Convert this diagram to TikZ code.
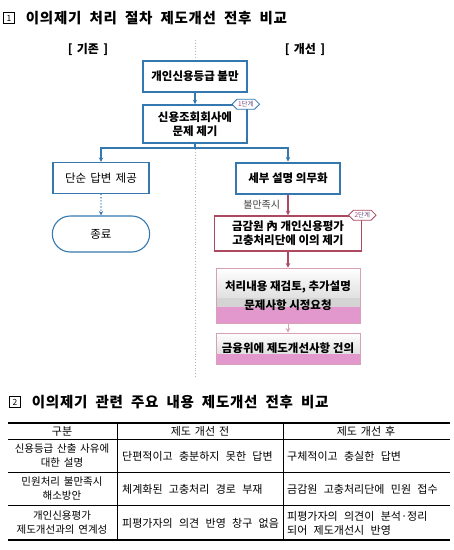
\documentclass[tikz,border=0pt]{standalone}
\usepackage{fontspec}
\setmainfont{Noto Sans CJK KR}
\newfontfamily\titlefont[LetterSpace=5, WordSpace=2]{Noto Sans CJK KR}
\newfontfamily\headfont[WordSpace=2.5]{Noto Sans CJK KR}
\newfontfamily\cellfont[WordSpace=1.6]{Noto Sans CJK KR}
\usetikzlibrary{
    arrows.meta,
    positioning,
    calc,
    shapes.misc,
    shapes.symbols
}
\definecolor{boxblue}{RGB}{52,120,175}
\definecolor{boxred}{RGB}{172,72,96}
\definecolor{pinkfill}{RGB}{226,152,204}
\definecolor{pinkline}{RGB}{214,160,182}
\definecolor{bandgray}{RGB}{212,212,212}
\definecolor{tagtext}{RGB}{110,80,125}
\tikzset{
    % --- Section title with numbered square ---
    num box/.style = {
        rectangle, draw, thin,
        minimum size=11pt, inner sep=0pt,
        font=\fontsize{8.5}{8.5}\selectfont
    },
    section title/.style = {
        font=\titlefont\bfseries\fontsize{14.5}{16}\selectfont,
        inner sep=2pt
    },
    % --- Column heading ([ old ] / [ new ]) ---
    col head/.style = {
        font=\headfont\bfseries\fontsize{12}{14}\selectfont
    },
    % --- Flow step (blue outline) ---
    flow box/.style = {
        rectangle, draw=boxblue, line width=1.6pt, fill=white,
        minimum width=104pt, minimum height=31pt,
        font=\bfseries\fontsize{11.5}{14}\selectfont,
        align=center, inner sep=2pt
    },
    % --- Plain step (thin blue outline, regular text) ---
    plain box/.style = {
        flow box, line width=1.1pt, minimum width=96pt,
        font=\headfont\fontsize{11.5}{14}\selectfont
    },
    % --- Terminal ---
    end box/.style = {
        rounded rectangle, draw=boxblue, line width=1.1pt, fill=white,
        minimum width=104pt, minimum height=36pt,
        font=\fontsize{11.5}{14}\selectfont
    },
    % --- Improved step (red outline) ---
    red box/.style = {
        flow box, draw=boxred, minimum width=147pt, minimum height=35pt
    },
    % --- Shaded result box (gradient, grey band, pink base) ---
    grad box/.style 2 args = {
        rectangle, draw=pinkline, line width=0.8pt,
        minimum width=144pt,
        font=\bfseries\fontsize{11.5}{14}\selectfont,
        align=center, inner sep=2pt,
        path picture={
            \fill[pinkfill] (path picture bounding box.south west)
                rectangle ($(path picture bounding box.south east)!#1!(path picture bounding box.north east)$);
            \fill[bandgray] ($(path picture bounding box.south west)!#1!(path picture bounding box.north west)$)
                rectangle ($(path picture bounding box.south east)!#2!(path picture bounding box.north east)$);
            \shade[top color=white, bottom color=gray!24]
                ($(path picture bounding box.south west)!#2!(path picture bounding box.north west)$)
                rectangle (path picture bounding box.north east);
        }
    },
    % --- Stage tag (hexagon) ---
    tag/.style = {
        signal, signal to=west and east, fill=white, line width=0.8pt,
        minimum height=10pt, inner sep=1pt, text=tagtext,
        font=\fontsize{6.5}{7}\selectfont
    },
    % --- Connectors ---
    blue arrow/.style = {->, draw=boxblue, line width=1.1pt},
    blue line/.style = {draw=boxblue, line width=1.1pt},
    red arrow/.style = {->, draw=boxred, line width=1.1pt},
    pink arrow/.style = {->, draw=pinkline, line width=1pt},
    step label/.style = {
        font=\fontsize{10}{11}\selectfont, text=black!75
    },
    divider/.style = {dotted, gray!60, line width=0.8pt},
    % --- Table ---
    rule thick/.style = {line width=1.3pt},
    rule thin/.style = {line width=0.6pt},
    cell/.style = {
        font=\cellfont\fontsize{11}{14}\selectfont,
        align=center, inner sep=1pt
    },
    cell head/.style = {cell, font=\headfont\fontsize{11}{14}\selectfont},
    cell side/.style = {cell, font=\cellfont\fontsize{10.5}{14}\selectfont},
    cell left/.style = {cell, align=left, anchor=west}
}

\begin{document}
\begin{tikzpicture}[
    x=1pt, y=-1pt,
    >={Stealth[length=4.5pt, width=4.5pt]}
]
\useasboundingbox (0,0) rectangle (454,550);

% ---------------------------------------------------------
% Part 1: procedure before / after
% ---------------------------------------------------------
\node[num box] (N1) at (9,18) {1};
\node[section title, right=9pt of N1] (T1) {이의제기 처리 절차 제도개선 전후 비교};

\node[col head] (Old) at (88,49) {[ 기존 ]};
\node[col head] (New) at (305,49) {[ 개선 ]};

\coordinate (DivTop) at (195,40);
\coordinate (DivBot) at (195,377);
\draw[divider] (DivTop) -- (DivBot);

% common steps
\node[flow box] (Grade) at (195,76.5) {개인신용등급 불만};
\node[flow box, minimum height=38pt] (Raise) at (195,124) {신용조회회사에\\문제 제기};
\node[tag, draw=boxblue] (Tag1) at ([xshift=-2pt]Raise.north east) {{\color{magenta!70!black}1}단계};
\draw[blue arrow] (Grade) -- (Raise);

% split
\coordinate (Fork) at (195,148);
\node[plain box] (Simple) at (101,178) {단순 답변 제공};
\node[flow box, line width=2pt] (Explain) at (288,178) {세부 설명 의무화};
\draw[blue line] (Raise.south) -- (Fork);
\draw[blue arrow] (Fork) -| (Simple.north);
\draw[blue arrow] (Fork) -| (Explain.north);

% old path
\node[end box] (End) at (101,234) {종료};
\draw[blue arrow, dotted] (Simple) -- (End);

% new path
\node[red box] (Appeal) at (288,233.5) {금감원 內 개인신용평가\\고충처리단에 이의 제기};
\node[tag, draw=boxred] (Tag2) at (Appeal.north east) {{\color{magenta!70!black}2}단계};
\draw[red arrow] (Explain) -- (Appeal)
    node[step label, midway, left, xshift=-4pt] {불만족시};

\node[grad box={0.29}{0.47}, minimum height=55pt] (Review) at (288,295.5) {%
    처리내용 재검토, 추가설명\\[5pt]
    문제사항 시정요청
};
\node[grad box={0.35}{0.35}, minimum height=31pt] (Suggest) at (288,348.5) {금융위에 제도개선사항 건의};
\draw[red arrow] (Appeal) -- (Review);
\draw[pink arrow] (Review) -- (Suggest);

% ---------------------------------------------------------
% Part 2: comparison table
% ---------------------------------------------------------
\node[num box] (N2) at (15,402) {2};
\node[section title, right=9pt of N2] (T2) {이의제기 관련 주요 내용 제도개선 전후 비교};

\draw[rule thick] (8,423) -- (450,423);
\foreach \y in {439,472,505}
    \draw[rule thin] (8,\y) -- (450,\y);
\draw[rule thick] (8,540) -- (450,540);
\foreach \x in {117,283}
    \draw[rule thin] (\x,423) -- (\x,540);

% header
\node[cell head] (H1) at (62,431.5) {구분};
\node[cell head] (H2) at (200,431.5) {제도 개선 전};
\node[cell head] (H3) at (366,431.5) {제도 개선 후};

% rows
\node[cell side] (R1a) at (62,456) {신용등급 산출 사유에\\대한 설명};
\node[cell left] (R1b) at (121,456) {단편적이고 충분하지 못한 답변};
\node[cell left] (R1c) at (286,456) {구체적이고 충실한 답변};

\node[cell side] (R2a) at (62,489) {민원처리 불만족시\\해소방안};
\node[cell left] (R2b) at (121,489) {체계화된 고충처리 경로 부재};
\node[cell left] (R2c) at (286,489) {금감원 고충처리단에 민원 접수};

\node[cell side] (R3a) at (62,523) {개인신용평가\\제도개선과의 연계성};
\node[cell left] (R3b) at (121,523) {피평가자의 의견 반영 창구 없음};
\node[cell left] (R3c) at (286,523) {피평가자의 의견이 분석·정리\\되어 제도개선시 반영};

\end{tikzpicture}
\end{document}
